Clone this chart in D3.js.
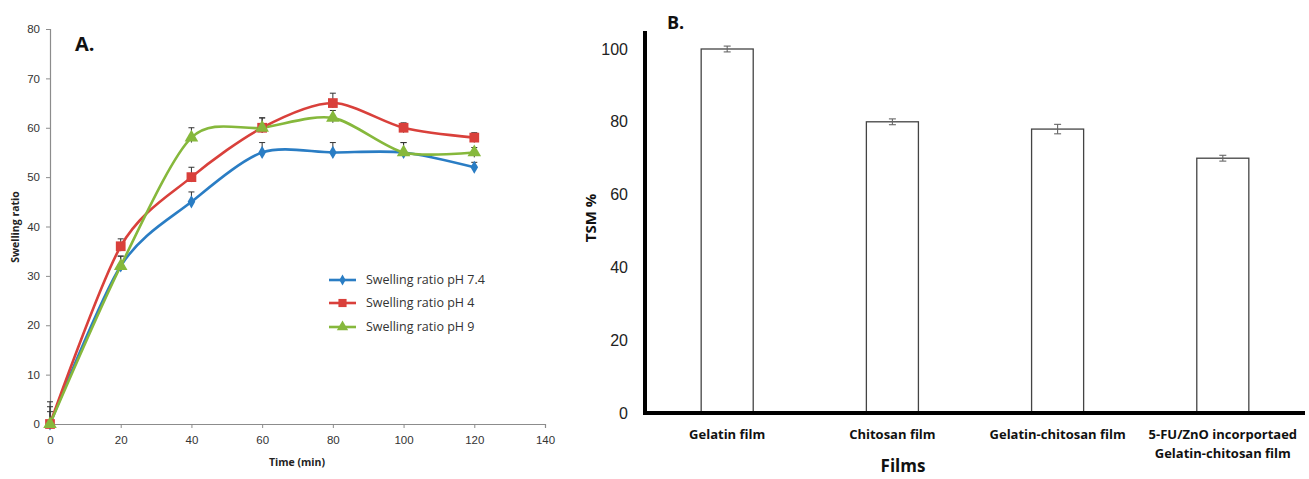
<!DOCTYPE html>
<html><head><meta charset="utf-8">
<script src="https://cdn.jsdelivr.net/npm/d3@7"></script>
<style>body{margin:0;background:#fff;} svg{display:block;font-family:"Open Sans",Lato,sans-serif;}</style>
</head><body><svg id="c" width="1309" height="479"></svg>
<script>
// ---- Panel A data ----
const times = [0, 20, 40, 60, 80, 100, 120];
const ph74 = [0, 32, 45, 55, 55, 55, 52];
const ph74Err = [3.5, 2, 2, 2, 2, 2, 1];
const ph4 = [0, 36, 50, 60, 65, 60, 58];
const ph4Err = [2.5, 1.5, 2, 2, 2, 1, 1];
const ph9 = [0, 32, 58, 60, 62, 55, 55];
const ph9Err = [4.5, 2, 2, 2, 1.5, 2, 1];
const seriesNames = ["Swelling ratio pH 7.4", "Swelling ratio pH 4", "Swelling ratio pH 9"];
const seriesColors = ["#2a7dc4", "#d9403b", "#86b83c"];
const xTicksA = [0, 20, 40, 60, 80, 100, 120, 140];
const yTicksA = [0, 10, 20, 30, 40, 50, 60, 70, 80];
// ---- Panel B data ----
const films = ["Gelatin film", "Chitosan film", "Gelatin-chitosan film", "5-FU/ZnO incorportaed|Gelatin-chitosan film"];
const tsm = [100, 80, 78, 70];
const tsmErr = [0.8, 0.8, 1.3, 0.8];
const yTicksB = [0, 20, 40, 60, 80, 100];

const svg = d3.select("#c");

// ================= Panel A =================
const xA = d3.scaleLinear().domain([0, 140]).range([50, 545]);
const yA = d3.scaleLinear().domain([0, 80]).range([424, 29]);
const gA = svg.append("g");

const axXA = gA.append("g").attr("transform", `translate(0,${yA(0)})`)
  .call(d3.axisBottom(xA).tickValues(xTicksA).tickSize(4).tickPadding(6));
const axYA = gA.append("g").attr("transform", `translate(${xA(0)},0)`)
  .call(d3.axisLeft(yA).tickValues(yTicksA).tickSize(4).tickPadding(6));
[axXA, axYA].forEach(a => {
  a.select(".domain").attr("stroke", "#8c8c8c").attr("stroke-width", 1.2);
  a.selectAll(".tick line").attr("stroke", "#8c8c8c");
  a.selectAll(".tick text").attr("fill", "#333").attr("font-size", 11.5);
});
axXA.selectAll(".tick text").attr("dy", "0.9em");

gA.append("text").attr("x", 297).attr("y", 466).attr("text-anchor", "middle")
  .attr("font-size", 10.5).attr("font-weight", "bold").attr("fill", "#222").text("Time (min)");
gA.append("text").attr("transform", "translate(19,227) rotate(-90)").attr("text-anchor", "middle")
  .attr("font-size", 10.5).attr("font-weight", "bold").attr("fill", "#222").text("Swelling ratio");
gA.append("text").attr("x", 75).attr("y", 51).attr("font-size", 20).attr("font-weight", "bold")
  .attr("fill", "#111").text("A.");

const seriesA = [
  {vals: ph74, err: ph74Err, sym: d3.symbolDiamond, size: 50},
  {vals: ph4, err: ph4Err, sym: d3.symbolSquare, size: 95},
  {vals: ph9, err: ph9Err, sym: d3.symbolTriangle, size: 80}
];
const line = d3.line().x(d => xA(d[0])).y(d => yA(d[1])).curve(d3.curveCardinal.tension(0.15));

// error bars (upper) first
seriesA.forEach((s, i) => {
  const eb = gA.append("g").attr("stroke", "#333").attr("stroke-width", 1);
  times.forEach((t, j) => {
    const x = xA(t), y1 = yA(s.vals[j] + s.err[j]), y2 = yA(s.vals[j] - Math.min(s.err[j], 1));
    eb.append("line").attr("x1", x).attr("x2", x).attr("y1", y2).attr("y2", y1);
    eb.append("line").attr("x1", x - 3).attr("x2", x + 3).attr("y1", y1).attr("y2", y1);
  });
});
seriesA.forEach((s, i) => {
  const pts = times.map((t, j) => [t, s.vals[j]]);
  gA.append("path").attr("d", line(pts)).attr("fill", "none")
    .attr("stroke", seriesColors[i]).attr("stroke-width", 2.6);
});
seriesA.forEach((s, i) => {
  times.forEach((t, j) => {
    gA.append("path").attr("d", d3.symbol().type(s.sym).size(s.size)())
      .attr("transform", `translate(${xA(t)},${yA(s.vals[j])})`).attr("fill", seriesColors[i]);
  });
});

// legend
const legY = [280, 303, 327];
seriesNames.forEach((n, i) => {
  const lg = gA.append("g").attr("transform", `translate(329,${legY[i]})`);
  lg.append("line").attr("x1", 0).attr("x2", 27).attr("stroke", seriesColors[i]).attr("stroke-width", 2.6);
  lg.append("path").attr("d", d3.symbol().type(seriesA[i].sym).size(seriesA[i].size * 0.7)())
    .attr("transform", "translate(13.5,0)").attr("fill", seriesColors[i]);
  lg.append("text").attr("x", 37).attr("dy", "0.35em").attr("font-size", 12.5)
    .attr("fill", "#333").text(n);
});

// ================= Panel B =================
const xB = d3.scaleBand().domain(films).range([645, 1305]).paddingInner(0.685).paddingOuter(0.34);
const yB = d3.scaleLinear().domain([0, 100]).range([413, 49]);
const gB = svg.append("g");

const axYB = gB.append("g").attr("transform", "translate(645,0)")
  .call(d3.axisLeft(yB).tickValues(yTicksB).tickSize(0).tickPadding(17));
axYB.select(".domain").remove();
axYB.selectAll(".tick text").attr("font-size", 16).attr("fill", "#222");

// bars
films.forEach((f, i) => {
  gB.append("rect").attr("x", xB(f)).attr("y", yB(tsm[i])).attr("width", xB.bandwidth())
    .attr("height", yB(0) - yB(tsm[i])).attr("fill", "#fff").attr("stroke", "#444").attr("stroke-width", 1.3);
  const cx = xB(f) + xB.bandwidth() / 2, t = yB(tsm[i] + tsmErr[i]), b = yB(tsm[i] - tsmErr[i]);
  const eb = gB.append("g").attr("stroke", "#666").attr("stroke-width", 1.1);
  eb.append("line").attr("x1", cx).attr("x2", cx).attr("y1", t).attr("y2", b);
  eb.append("line").attr("x1", cx - 3.5).attr("x2", cx + 3.5).attr("y1", t).attr("y2", t);
  eb.append("line").attr("x1", cx - 3.5).attr("x2", cx + 3.5).attr("y1", b).attr("y2", b);
});

// axes lines (thick)
gB.append("line").attr("x1", 645).attr("x2", 645).attr("y1", 31).attr("y2", 415)
  .attr("stroke", "#000").attr("stroke-width", 4);
gB.append("line").attr("x1", 643).attr("x2", 1305).attr("y1", 413).attr("y2", 413)
  .attr("stroke", "#000").attr("stroke-width", 4);

// x labels
films.forEach(f => {
  const cx = xB(f) + xB.bandwidth() / 2;
  const lines = f.split("|");
  const t = gB.append("text").attr("text-anchor", "middle").attr("font-size", 13)
    .attr("font-weight", "bold").attr("fill", "#111");
  lines.forEach((l, k) => t.append("tspan").attr("x", cx).attr("y", 439 + k * 19).text(l));
});
gB.append("text").attr("x", 903).attr("y", 472).attr("text-anchor", "middle").attr("font-size", 17)
  .attr("font-weight", "bold").attr("fill", "#111").text("Films");
gB.append("text").attr("transform", "translate(596,218) rotate(-90)").attr("text-anchor", "middle")
  .attr("font-size", 15).attr("font-weight", "bold").attr("fill", "#111").text("TSM %");
gB.append("text").attr("x", 667).attr("y", 29).attr("font-size", 18).attr("font-weight", "bold")
  .attr("fill", "#111").text("B.");
</script></body></html>
